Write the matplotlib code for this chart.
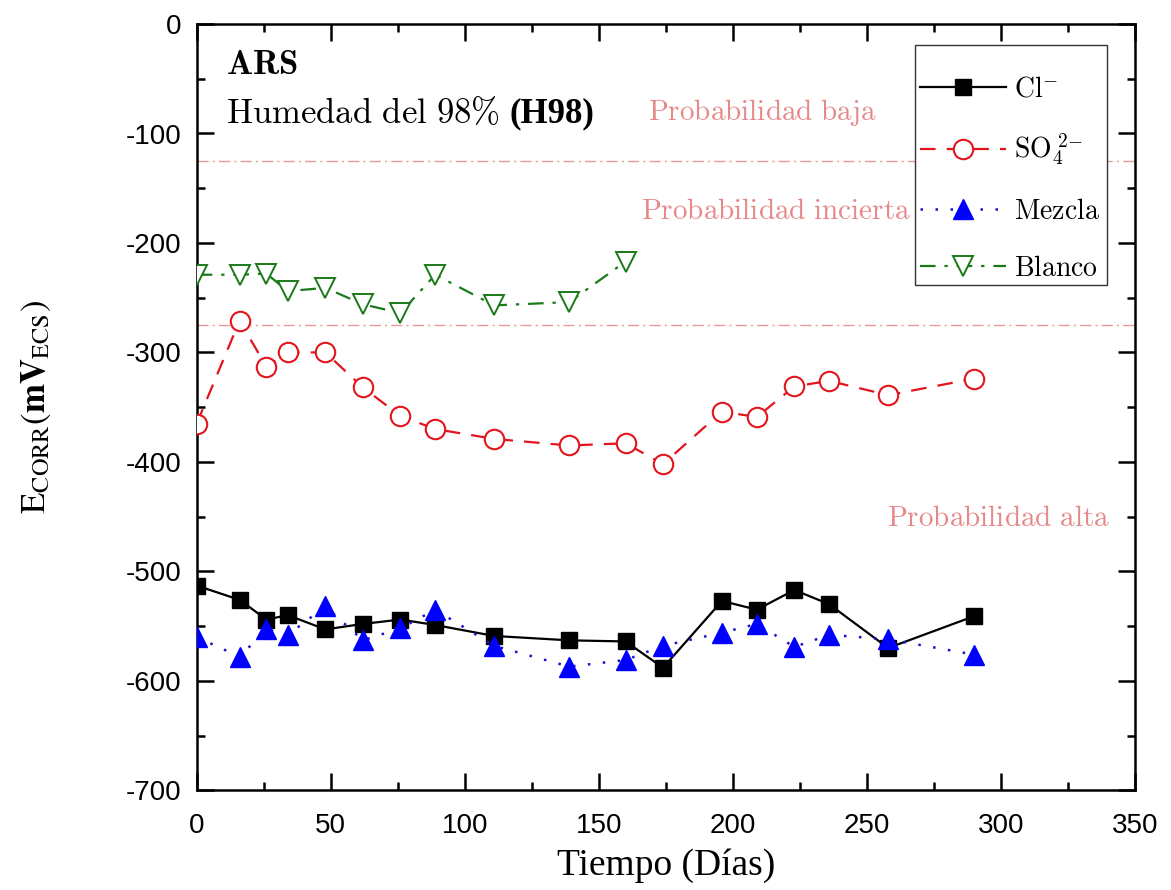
import matplotlib
matplotlib.use("Agg")
import matplotlib.pyplot as plt
from matplotlib.ticker import MultipleLocator
from matplotlib.font_manager import FontProperties
from matplotlib.patches import Rectangle

plt.rcParams['axes.unicode_minus'] = False
plt.rcParams['mathtext.fontset'] = 'cm'

# ---- data ----
dias_cl = [0, 16, 26, 34, 48, 62, 76, 89, 111, 139, 160, 174, 196, 209, 223, 236, 258, 290]
cl = [-513, -526, -544, -540, -553, -548, -544, -549, -559, -563, -564, -588, -527, -535, -517, -530, -570, -541]

dias_so4 = [0, 16, 26, 34, 48, 62, 76, 89, 111, 139, 160, 174, 196, 209, 223, 236, 258, 290]
so4 = [-365, -271, -313, -300, -300, -332, -358, -370, -379, -385, -383, -402, -354, -359, -331, -326, -339, -324]

dias_mez = [0, 16, 26, 34, 48, 62, 76, 89, 111, 139, 160, 174, 196, 209, 223, 236, 258, 290]
mezcla = [-560, -578, -553, -558, -532, -563, -552, -535, -568, -587, -581, -568, -556, -548, -569, -558, -562, -576]

dias_bl = [0, 16, 26, 34, 48, 62, 76, 89, 111, 139, 160]
blanco = [-229, -229, -228, -244, -241, -256, -264, -229, -257, -254, -217]

umbrales = [-125, -275]
zonas = ["Probabilidad baja", "Probabilidad incierta", "Probabilidad alta"]
xticks = [0, 50, 100, 150, 200, 250, 300, 350]
yticks = [0, -100, -200, -300, -400, -500, -600, -700]

# ---- figure ----
fig = plt.figure(figsize=(11.71, 8.90), dpi=100)
ax = fig.add_axes([0.168, 0.112, 0.801, 0.861])

pink = '#e68888'
for u in umbrales:
    ax.axhline(u, color='#e79a9a', lw=1.0, ls=(0, (8, 3, 1.5, 3)), zorder=1)

ax.plot(dias_cl, cl, color='black', lw=1.6, ls='-', marker='s', ms=12,
        mfc='black', mec='black', label=r'$\mathrm{Cl}^{\mathbf{-}}$', zorder=4)
ax.plot(dias_so4, so4, color='#e3141b', lw=1.6, ls=(0, (7, 5)), marker='o', ms=14,
        mfc='white', mec='#e3141b', mew=1.5, label=r'$\mathrm{SO}_{4}^{\ 2\mathbf{-}}$', zorder=3)
ax.plot(dias_mez, mezcla, color='#1c10c8', lw=1.8, ls=(0, (1, 5)), marker='^', ms=14,
        mfc='#0000ff', mec='#0000ff', label=r'$\mathrm{Mezcla}$', zorder=5)
ax.plot(dias_bl, blanco, color='#1a7a1a', lw=1.6, ls=(0, (7, 4, 1.5, 4)), marker='v', ms=15,
        mfc='white', mec='#1a7a1a', mew=1.4, label=r'$\mathrm{Blanco}$', zorder=3)

ax.set_xlim(0, 350)
ax.set_ylim(-700, 0)
ax.set_xticks(xticks)
ax.set_yticks(yticks)
ax.xaxis.set_minor_locator(MultipleLocator(25))
ax.yaxis.set_minor_locator(MultipleLocator(50))
ax.tick_params(which='both', direction='in', top=True, right=True, width=1.8)
ax.tick_params(which='major', length=12, labelsize=20)
ax.tick_params(axis='x', which='major', pad=16)
ax.tick_params(axis='y', which='major', pad=11)
ax.tick_params(which='minor', length=6)
for lab in ax.get_xticklabels() + ax.get_yticklabels():
    lab.set_fontfamily('Liberation Sans')
for s in ax.spines.values():
    s.set_linewidth(1.8)

ax.set_xlabel('Tiempo (Días)', fontfamily='Liberation Serif', fontsize=27, labelpad=7)
ylab_fp = FontProperties(family='Liberation Serif', size=25, math_fontfamily='stix')
ax.set_ylabel(r'$\mathrm{E}_{\mathrm{CORR}}\mathrm{(}\mathbf{mV}_{\mathrm{ECS}}\mathrm{)}$',
              fontproperties=ylab_fp, labelpad=52)

ax.text(11, -46, r'$\mathbf{ARS}$', fontsize=25, va='baseline', ha='left')
t1 = ax.text(11, -90, r'$\mathrm{Humedad\ del\ 98\%}$', fontsize=25, va='baseline', ha='left')
fig.canvas.draw()
bb = t1.get_window_extent()
x_end = ax.transData.inverted().transform((bb.x1, bb.y0))[0]
ax.text(x_end + 3.5, -90, '(H98)', fontfamily='Liberation Serif', fontweight='bold',
        fontsize=25, va='baseline', ha='left')

ax.text(211, -81, r'$\mathrm{Probabilidad\ baja}$', color=pink, fontsize=21, ha='center', va='center')
ax.text(216, -171, r'$\mathrm{Probabilidad\ incierta}$', color=pink, fontsize=21, ha='center', va='center')
ax.text(299, -451, r'$\mathrm{Probabilidad\ alta}$', color=pink, fontsize=21, ha='center', va='center')

# legend frame (drawn separately to match the reference's padding)
ax.add_patch(Rectangle((0.7655, 0.6593), 0.2055, 0.3133, transform=ax.transAxes,
                       facecolor='white', edgecolor='#333333', lw=1.0, zorder=6))
leg = ax.legend(loc='upper left', bbox_to_anchor=(0.771, 0.934), fontsize=20, frameon=False,
                borderpad=0, labelspacing=1.05, handlelength=3.1, handletextpad=0.3,
                borderaxespad=0)
leg.set_zorder(7)

fig.savefig('out.png', dpi=100)
